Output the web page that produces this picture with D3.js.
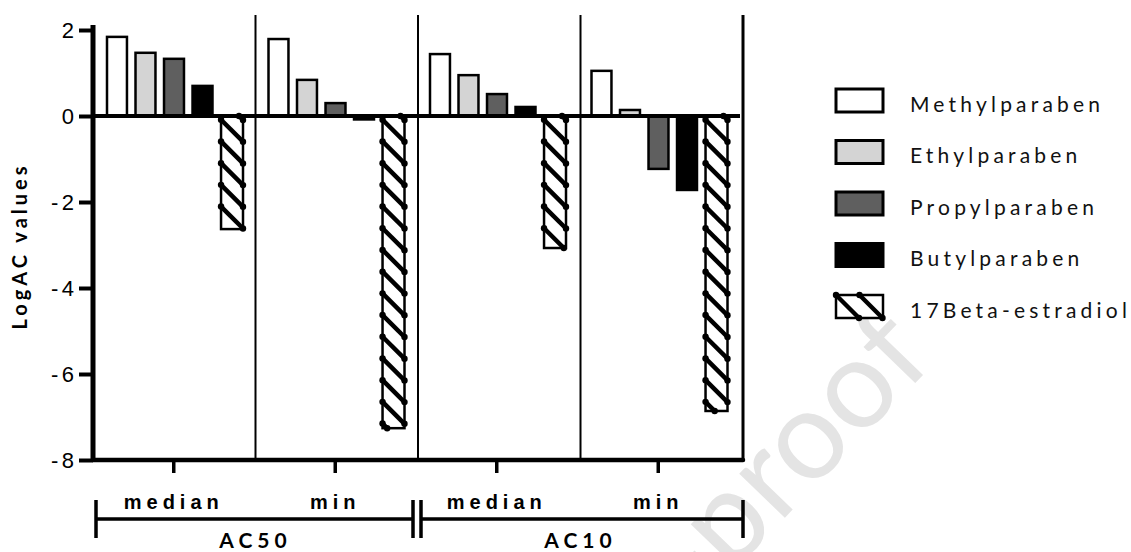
<!DOCTYPE html>
<html>
<head>
<meta charset="utf-8">
<script src="https://cdn.jsdelivr.net/npm/d3@7"></script>
<style>
  body { margin: 0; background: #fff; }
  svg { display: block; font-family: Lato, "Open Sans", sans-serif; }
</style>
</head>
<body>
<svg id="chart" width="1131" height="552"></svg>
<script>
// data
const groups = ['median', 'min', 'median', 'min'];
const parents = ['AC50', 'AC10'];
const compounds = ['Methylparaben', 'Ethylparaben', 'Propylparaben', 'Butylparaben', '17Beta-estradiol'];
const methylparaben = [1.84, 1.79, 1.44, 1.05];
const ethylparaben = [1.47, 0.84, 0.95, 0.14];
const propylparaben = [1.33, 0.30, 0.51, -1.23];
const butylparaben = [0.70, -0.08, 0.21, -1.72];
const estradiol = [-2.63, -7.26, -3.07, -6.86];
const yTicks = [-8, -6, -4, -2, 0, 2];

const series = [methylparaben, ethylparaben, propylparaben, butylparaben, estradiol];
const fills = ['#ffffff', '#d4d4d4', '#5f5f5f', '#000000', 'hatch'];

const svg = d3.select('#chart');
const plotLeft = 93, plotRight = 743, plotTop = 30, plotBottom = 460;

// watermark behind everything
svg.append('text')
  .attr('transform', 'translate(809,446) rotate(-46)')
  .attr('x', 150)
  .attr('dy', '0.26em')
  .attr('text-anchor', 'end')
  .style('font-size', '125px')
  .attr('fill', '#e4e4e4')
  .text('Journal Pre-proof');

const y = d3.scaleLinear().domain([-8, 2]).range([plotBottom, plotTop]);
const x = d3.scaleBand().domain(d3.range(groups.length)).range([plotLeft, 739]);
const xParent = d3.scaleBand().domain(parents).range([plotLeft, plotRight]);
const xInner = d3.scaleBand().domain(compounds).range([14, 148]).paddingInner(0.3);

// group separators
svg.append('g').selectAll('line')
  .data(d3.range(1, groups.length))
  .enter().append('line')
  .attr('x1', d => xParent.step() / 2 * d + plotLeft)
  .attr('x2', d => xParent.step() / 2 * d + plotLeft)
  .attr('y1', 15)
  .attr('y2', plotBottom)
  .attr('stroke', '#000')
  .attr('stroke-width', 2);

svg.append('line')
  .attr('x1', plotRight).attr('x2', plotRight)
  .attr('y1', 15).attr('y2', plotBottom)
  .attr('stroke', '#000').attr('stroke-width', 3);

// hatched box: 45 degree stripes with a dot where each one meets the outline
function drawHatch(g, bx, y0, w, h, s, off) {
  g.append('rect')
    .attr('x', bx).attr('y', y0).attr('width', w).attr('height', h)
    .attr('fill', '#fff');
  const n = Math.ceil((h + w) / s) + 1;
  const segs = [];
  d3.range(n).forEach(k => {
    const ya = y0 + k * s - w + off;
    const t0 = Math.max(0, y0 - ya);
    const t1 = Math.min(w, y0 + h - ya);
    if (t1 - t0 > 1.5) segs.push([bx + t0, ya + t0, bx + t1, ya + t1]);
  });
  g.append('g').selectAll('line').data(segs).enter().append('line')
    .attr('x1', d => d[0]).attr('y1', d => d[1])
    .attr('x2', d => d[2]).attr('y2', d => d[3])
    .attr('stroke', '#000').attr('stroke-width', 4.5);
  const dots = segs.flatMap(d => [[d[0], d[1]], [d[2], d[3]]]);
  g.append('rect')
    .attr('x', bx).attr('y', y0).attr('width', w).attr('height', h)
    .attr('fill', 'none').attr('stroke', '#000').attr('stroke-width', 2.5);
  g.append('g').selectAll('circle').data(dots).enter().append('circle')
    .attr('cx', d => d[0]).attr('cy', d => d[1]).attr('r', 3.2).attr('fill', '#000');
}

// bars
const bars = svg.append('g');
series.forEach((vals, si) => {
  vals.forEach((v, gi) => {
    const bx = x(gi) + xInner(compounds[si]);
    const bw = xInner.bandwidth();
    const y0 = Math.min(y(0), y(v));
    const h = Math.abs(y(v) - y(0));
    if (fills[si] === 'hatch') {
      drawHatch(bars, bx, y0, bw + 2, h, 21.7, 4);
      return;
    }
    bars.append('rect')
      .attr('x', bx).attr('y', y0)
      .attr('width', bw).attr('height', h)
      .attr('fill', fills[si])
      .attr('stroke', '#000')
      .attr('stroke-width', 2.5);
  });
});

// zero line
svg.append('line')
  .attr('x1', plotLeft).attr('x2', 740)
  .attr('y1', y(0)).attr('y2', y(0))
  .attr('stroke', '#000').attr('stroke-width', 4);

// y axis
const yAxis = svg.append('g')
  .attr('transform', `translate(${plotLeft},0)`)
  .call(d3.axisLeft(y).tickValues(yTicks).tickSize(14).tickPadding(5)
    .tickFormat(d => (d < 0 ? '-' + Math.abs(d) : d)));
yAxis.select('.domain').remove();
yAxis.selectAll('.tick line').attr('stroke-width', 4);
yAxis.selectAll('.tick text')
  .style('font-size', '22px')
  .style('letter-spacing', '3.5px')
  .attr('dx', '3.5px')
  .attr('fill', '#000');
svg.append('line')
  .attr('x1', plotLeft).attr('x2', plotLeft)
  .attr('y1', 25).attr('y2', plotBottom + 2)
  .attr('stroke', '#000').attr('stroke-width', 5);

// x axis
const xAxis = svg.append('g')
  .attr('transform', `translate(0,${plotBottom})`)
  .call(d3.axisBottom(x).tickSize(13).tickPadding(22).tickFormat(i => groups[i]));
xAxis.select('.domain').remove();
xAxis.selectAll('.tick line').attr('stroke-width', 3.5);
xAxis.selectAll('.tick text')
  .style('font-size', '20px')
  .style('font-weight', 'bold')
  .style('letter-spacing', '5px')
  .attr('fill', '#000');
svg.append('line')
  .attr('x1', plotLeft).attr('x2', plotRight)
  .attr('y1', plotBottom).attr('y2', plotBottom)
  .attr('stroke', '#000').attr('stroke-width', 4.5)
  .attr('stroke-linecap', 'round');

// brackets
const brk = svg.append('g').selectAll('g').data(parents).enter().append('g');
brk.append('path')
  .attr('d', d => {
    const a = xParent(d) + 3, b = xParent(d) + xParent.bandwidth() - (d === 'AC50' ? 5 : 0);
    return `M${a},500V538M${a},519H${b}M${b},500V538`;
  })
  .attr('fill', 'none').attr('stroke', '#000').attr('stroke-width', 3.5);
brk.append('text')
  .attr('x', d => xParent(d) + xParent.bandwidth() / 2)
  .attr('y', 548)
  .attr('text-anchor', 'middle')
  .style('font-size', '21px')
  .style('font-weight', 'bold')
  .style('letter-spacing', '5px')
  .text(d => d);

// y label
svg.append('text')
  .attr('transform', 'translate(27,246) rotate(-90)')
  .attr('text-anchor', 'middle')
  .style('font-size', '20px')
  .style('font-weight', 'bold')
  .style('letter-spacing', '4px')
  .text('LogAC values');

// legend
const legend = svg.append('g');
compounds.forEach((c, i) => {
  const cy = 100.5 + i * 51.5;
  if (fills[i] === 'hatch') {
    drawHatch(legend, 836, cy - 11.5, 47, 23, 23.5, 0);
  } else {
    legend.append('rect')
      .attr('x', 836).attr('y', cy - 11.5)
      .attr('width', 47).attr('height', 23)
      .attr('fill', fills[i])
      .attr('stroke', '#000').attr('stroke-width', 3);
  }
  legend.append('text')
    .attr('x', 910).attr('y', cy + 11)
    .style('font-size', '21px')
    .style('letter-spacing', '4.2px')
    .attr('fill', '#111')
    .text(c);
});
</script>
</body>
</html>
